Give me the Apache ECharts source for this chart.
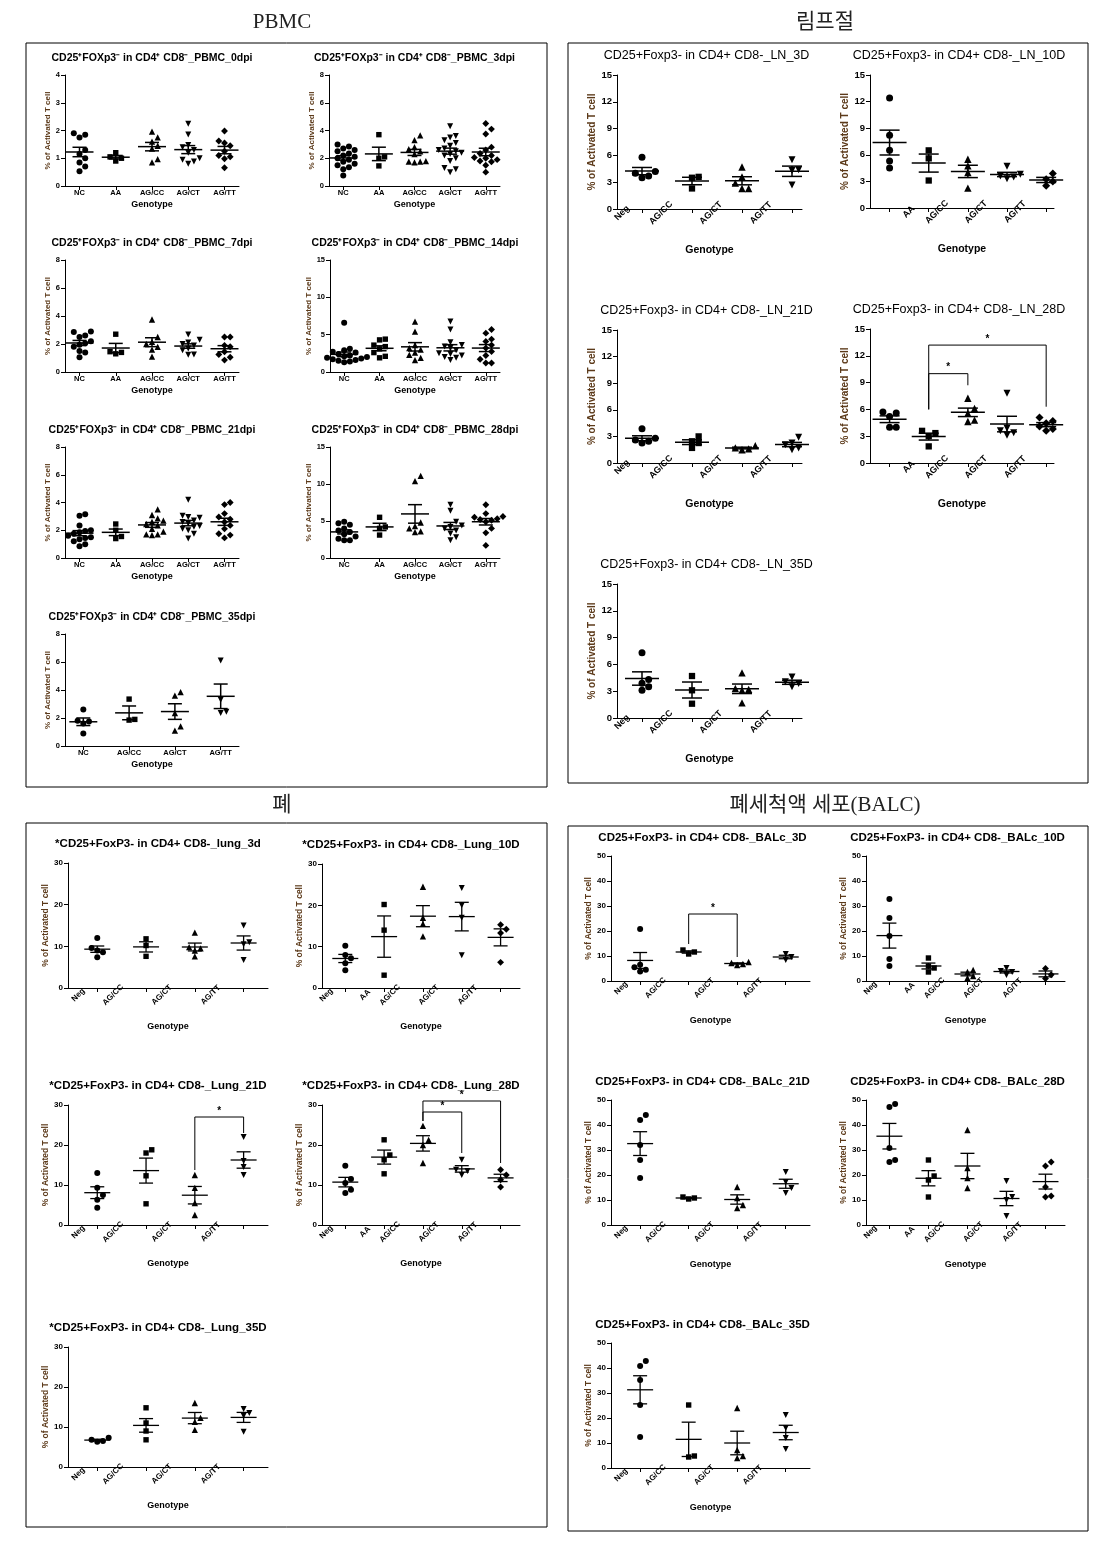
<!DOCTYPE html>
<html><head><meta charset="utf-8">
<script src="https://cdn.jsdelivr.net/npm/echarts@6/dist/echarts.min.js"></script>
<style>html,body{margin:0;padding:0;background:#fff}#c{width:1098px;height:1541px}</style>
</head><body><div id="c"></div>
<script>
// ---------- categories ----------
const CAT_NC5 = ['NC', 'AA', 'AG/CC', 'AG/CT', 'AG/TT'];
const CAT_NC4 = ['NC', 'AG/CC', 'AG/CT', 'AG/TT'];
const CAT_NEG4 = ['Neg', 'AG/CC', 'AG/CT', 'AG/TT'];
const CAT_NEG5 = ['Neg', 'AA', 'AG/CC', 'AG/CT', 'AG/TT'];

// ---------- values (one list of points per genotype group) ----------
const PBMC_0dpi = [
  [1.85, 1.9, 1.75, 1.3, 1.15, 1.0, 0.85, 0.7, 0.53],
  [1.2, 1.05, 1.0, 0.9],
  [1.96, 1.75, 1.6, 1.45, 1.35, 0.97, 0.85],
  [2.24, 1.86, 1.48, 1.4, 1.3, 1.2, 1.0, 0.95, 0.88, 0.8],
  [1.98, 1.62, 1.55, 1.45, 1.25, 1.1, 1.05, 0.98, 0.66]
];
const PBMC_3dpi = [
  [3.0, 2.85, 2.7, 2.6, 2.5, 2.35, 2.2, 2.1, 2.0, 1.9, 1.75, 1.6, 1.5, 1.35, 1.2, 0.75],
  [3.7, 2.1, 2.0, 1.45],
  [3.65, 3.3, 2.8, 2.65, 2.5, 2.3, 1.8, 1.75, 1.7, 1.75],
  [4.3, 3.6, 3.5, 3.3, 3.1, 2.9, 2.7, 2.6, 2.5, 2.4, 2.3, 2.2, 2.0, 1.8, 1.3, 1.2, 1.0],
  [4.5, 4.1, 3.75, 2.8, 2.6, 2.35, 2.2, 2.05, 2.0, 1.9, 1.8, 1.75, 1.5, 1.0]
];
const PBMC_7dpi = [
  [2.9, 2.85, 2.6, 2.5, 2.2, 2.05, 1.95, 1.8, 1.5, 1.4, 1.05],
  [2.7, 1.45, 1.4, 1.3],
  [3.75, 2.5, 2.15, 2.0, 1.8, 1.6, 1.1],
  [2.67, 2.3, 2.1, 2.0, 1.9, 1.67, 1.55, 1.25, 1.24],
  [2.5, 2.5, 1.9, 1.8, 1.45, 1.25, 1.05, 0.85]
];
const PBMC_14dpi = [
  [6.6, 3.1, 2.9, 2.7, 2.6, 2.4, 2.2, 2.1, 2.0, 1.9, 1.8, 1.7, 1.6, 1.5, 1.4, 1.3],
  [4.4, 4.3, 3.6, 3.4, 3.1, 2.6, 2.1, 1.9],
  [6.75, 5.4, 3.6, 3.2, 3.0, 2.6, 2.3, 1.9, 1.6],
  [6.75, 5.7, 4.0, 3.6, 3.4, 3.2, 2.9, 2.5, 2.4, 2.2, 2.0, 1.9, 1.6],
  [5.7, 5.2, 4.4, 4.1, 3.6, 3.2, 2.75, 2.2, 1.7, 1.2, 1.2]
];
const PBMC_21dpi = [
  [3.15, 3.05, 2.35, 2.0, 1.95, 1.85, 1.75, 1.6, 1.5, 1.45, 1.35, 1.2, 1.0, 0.85],
  [2.45, 2.0, 1.55, 1.4],
  [3.5, 3.1, 2.85, 2.7, 2.6, 2.45, 2.35, 2.1, 1.9, 1.7, 1.7, 1.65],
  [4.2, 3.05, 2.95, 2.9, 2.7, 2.6, 2.5, 2.3, 2.25, 2.1, 2.0, 1.75, 1.4],
  [4.0, 3.85, 3.2, 2.95, 2.8, 2.6, 2.35, 2.1, 1.75, 1.65, 1.45]
];
const PBMC_28dpi = [
  [4.9, 4.7, 4.5, 4.0, 3.7, 3.5, 3.2, 2.9, 2.6, 2.4, 2.4],
  [5.5, 4.2, 4.0, 3.1],
  [11.1, 10.4, 4.8, 4.3, 4.0, 3.6, 3.5],
  [7.2, 6.4, 4.9, 4.4, 4.2, 4.0, 3.7, 3.3, 2.8, 2.4],
  [7.2, 6.0, 5.6, 5.5, 5.3, 5.2, 5.1, 4.9, 4.0, 3.4, 1.7]
];
const PBMC_35dpi = [
  [2.6, 1.8, 1.75, 1.6, 0.9],
  [3.35, 1.9, 1.85],
  [3.85, 3.6, 2.35, 1.4, 1.1],
  [6.1, 3.3, 2.45, 2.35]
];

const LN_3D = [
  [5.8, 4.2, 4.0, 3.7, 3.5],
  [3.6, 3.5, 2.3],
  [4.7, 3.6, 2.9, 2.3, 2.3],
  [5.5, 4.4, 4.3, 2.7]
];
const LN_10D = [
  [12.4, 8.2, 6.5, 5.3, 4.5],
  [6.5, 5.6, 3.1],
  [5.5, 4.75, 4.0, 2.25],
  [4.7, 3.8, 3.6, 3.5, 3.3],
  [3.9, 3.25, 3.0, 2.5]
];
const LN_21D = [
  [3.85, 2.8, 2.6, 2.45, 2.25],
  [3.0, 2.45, 2.25, 1.7],
  [1.95, 1.7, 1.6, 1.5],
  [2.9, 2.25, 2.05, 1.7, 1.5]
];
const LN_28D = [
  [5.7, 5.6, 5.2, 4.0, 4.0],
  [3.6, 3.35, 3.0, 1.86],
  [7.25, 6.1, 5.55, 4.8, 4.65],
  [7.8, 3.9, 3.6, 3.4, 3.1],
  [5.1, 4.7, 4.45, 4.1, 3.8, 3.6]
];
const LN_35D = [
  [7.3, 4.3, 3.9, 3.5, 3.1],
  [4.7, 3.1, 1.6],
  [5.05, 3.3, 3.2, 3.1, 1.7],
  [4.6, 4.05, 3.85, 3.5]
];

const LUNG_3d = [
  [12, 9.6, 9, 8.6, 7.4],
  [11.8, 10.2, 7.6],
  [13.3, 9.8, 9.5, 9.0, 7.6],
  [15, 11, 10.5, 6.7]
];
const LUNG_10D = [
  [10.2, 8.0, 7.2, 6.0, 4.3],
  [20.2, 14, 3.1],
  [24.5, 17, 15.5, 12.5],
  [24.2, 20, 17, 7.9],
  [15.3, 14.2, 13.3, 6.2]
];
const LUNG_21D = [
  [13, 9.3, 7.5, 6.3, 4.3],
  [18.8, 18, 12.3, 5.3],
  [12.5, 9.3, 5.5, 2.5],
  [22, 16, 14.5, 12.5]
];
const LUNG_28D = [
  [14.8, 11.5, 10.5, 8.8, 8],
  [21.3, 17.5, 16.3, 12.8],
  [24.8, 21.3, 20, 15.5],
  [16.3, 13.8, 13.5, 12.5],
  [13.8, 12.5, 11.3, 9.5]
];
const LUNG_35D = [
  [7.3, 6.8, 6.5, 6.3],
  [14.8, 11, 9, 6.8],
  [16, 12.3, 11.3, 9.3],
  [14.5, 13.5, 12.8, 8.8]
];

const BALC_3D = [
  [20.8, 6.5, 5.5, 4.5, 3.8],
  [12.4, 11.6, 10.8],
  [7.6, 7.2, 6.8, 6.4],
  [10.8, 9.6, 8.4]
];
const BALC_10D = [
  [32.8, 25.2, 18, 8.8, 6],
  [9.2, 6, 5.2, 3.6],
  [4.4, 3.6, 2, 1.2],
  [5.2, 4, 3.6, 2.4],
  [5, 2.5, 1.0]
];
const BALC_21D = [
  [44, 42, 32, 26, 18.8],
  [11.2, 10.8, 10.4],
  [15.2, 10.8, 8, 6.8],
  [21.2, 17.2, 14.8, 12.8]
];
const BALC_28D = [
  [48.4, 47.2, 30.8, 26, 25.2],
  [26, 19.6, 18, 11.2],
  [38, 22.8, 18.8, 14.8],
  [17.6, 11.2, 10, 3.6],
  [25.2, 23.6, 15.2, 11.6, 11.2]
];
const BALC_35D = [
  [42.8, 40.8, 35.2, 25.2, 12.4],
  [25.2, 4.8, 4.4],
  [24, 7.2, 4.8, 4],
  [21.2, 16, 12, 7.6]
];

// significance brackets: [group a, group b, top, left leg bottom, right leg bottom]
const SIG_LN_28D = [[2, 3, 10.0, 6.0, 8.7], [2, 5, 13.2, 6.0, 6.3]];
const SIG_LUNG_21D = [[3, 4, 27, 13.75, 23]];
const SIG_LUNG_28D = [[3, 4, 28.25, 26, 18], [3, 5, 31, 26, 15.5]];
const SIG_BALC_3D = [[2, 3, 26.8, 14.8, 9.6]];

// ---------- styling / layout ----------
const FONT = "'Liberation Sans', Arial, sans-serif";
const YNAME_COLOR = '#5c3a1a';
const STY = {
  pbmc: {tFont: 10.5, tWeight: 'bold', tDy: 17, tDx: 0, tick: 7.5, cat: 7.5, rot: 0, catMargin: 3, geno: 9, genoGap: 14,
         yname: 8, ynameGap: 13, sym: 6, meanHalf: 14, capHalf: 7, lw: 1.5, xmin: 0.6, xpad: 0.4, shortShift: 0, longShift: 0},
  ln:   {tFont: 12.5, tWeight: 'normal', tDy: 19, tDx: -3, tick: 9.5, cat: 9, rot: 45, catMargin: 4, geno: 10.5, genoGap: 36,
         yname: 10, ynameGap: 18, sym: 7, meanHalf: 17, capHalf: 10, lw: 1.5, xmin: 0.5, xpad: 0.2, shortShift: 20, longShift: 31},
  lung: {tFont: 11.5, tWeight: 'bold', tDy: 19, tDx: -10, tick: 8, cat: 8, rot: 45, catMargin: 7, geno: 9, genoGap: 34,
         yname: 8.5, ynameGap: 13, sym: 6, meanHalf: 13, capHalf: 7, lw: 1.3, xmin: 0.4, xpad: 0.5, shortShift: 19, longShift: 33},
  balc: {tFont: 11.5, tWeight: 'bold', tDy: 18, tDx: -8, tick: 8, cat: 8, rot: 45, catMargin: 7, geno: 9, genoGap: 35,
         yname: 8.5, ynameGap: 13, sym: 6, meanHalf: 13, capHalf: 7, lw: 1.3, xmin: 0.4, xpad: 0.5, shortShift: 19, longShift: 33}
};

const panels = [
  {sec: 'pbmc', title: 'CD25⁺FOXp3⁻ in CD4⁺ CD8⁻_PBMC_0dpi', data: PBMC_0dpi, cats: CAT_NC5, box: [65, 75, 174, 111], ymax: 4, yint: 1},
  {sec: 'pbmc', title: 'CD25⁺FOXp3⁻ in CD4⁺ CD8⁻_PBMC_3dpi', data: PBMC_3dpi, cats: CAT_NC5, box: [329, 75, 171, 111], ymax: 8, yint: 2},
  {sec: 'pbmc', title: 'CD25⁺FOXp3⁻ in CD4⁺ CD8⁻_PBMC_7dpi', data: PBMC_7dpi, cats: CAT_NC5, box: [65, 260, 174, 112], ymax: 8, yint: 2},
  {sec: 'pbmc', title: 'CD25⁺FOXp3⁻ in CD4⁺ CD8⁻_PBMC_14dpi', data: PBMC_14dpi, cats: CAT_NC5, box: [330, 260, 170, 112], ymax: 15, yint: 5},
  {sec: 'pbmc', title: 'CD25⁺FOXp3⁻ in CD4⁺ CD8⁻_PBMC_21dpi', data: PBMC_21dpi, cats: CAT_NC5, box: [65, 447, 174, 111], ymax: 8, yint: 2},
  {sec: 'pbmc', title: 'CD25⁺FOXp3⁻ in CD4⁺ CD8⁻_PBMC_28dpi', data: PBMC_28dpi, cats: CAT_NC5, box: [330, 447, 170, 111], ymax: 15, yint: 5},
  {sec: 'pbmc', title: 'CD25⁺FOXp3⁻ in CD4⁺ CD8⁻_PBMC_35dpi', data: PBMC_35dpi, cats: CAT_NC4, box: [65, 634, 174, 112], ymax: 8, yint: 2},

  {sec: 'ln', title: 'CD25+Foxp3- in CD4+ CD8-_LN_3D', data: LN_3D, cats: CAT_NEG4, box: [617, 75, 185, 134], ymax: 15, yint: 3},
  {sec: 'ln', title: 'CD25+Foxp3- in CD4+ CD8-_LN_10D', data: LN_10D, cats: CAT_NEG5, box: [870, 75, 184, 133], ymax: 15, yint: 3},
  {sec: 'ln', title: 'CD25+Foxp3- in CD4+ CD8-_LN_21D', data: LN_21D, cats: CAT_NEG4, box: [617, 330, 185, 133], ymax: 15, yint: 3},
  {sec: 'ln', title: 'CD25+Foxp3- in CD4+ CD8-_LN_28D', data: LN_28D, cats: CAT_NEG5, box: [870, 329, 184, 134], ymax: 15, yint: 3, sig: SIG_LN_28D},
  {sec: 'ln', title: 'CD25+Foxp3- in CD4+ CD8-_LN_35D', data: LN_35D, cats: CAT_NEG4, box: [617, 584, 185, 134], ymax: 15, yint: 3},

  {sec: 'lung', title: '*CD25+FoxP3- in CD4+ CD8-_lung_3d', data: LUNG_3d, cats: CAT_NEG4, box: [68, 863, 200, 125], ymax: 30, yint: 10},
  {sec: 'lung', title: '*CD25+FoxP3- in CD4+ CD8-_Lung_10D', data: LUNG_10D, cats: CAT_NEG5, box: [322, 864, 198, 124], ymax: 30, yint: 10},
  {sec: 'lung', title: '*CD25+FoxP3- in CD4+ CD8-_Lung_21D', data: LUNG_21D, cats: CAT_NEG4, box: [68, 1105, 200, 120], ymax: 30, yint: 10, sig: SIG_LUNG_21D},
  {sec: 'lung', title: '*CD25+FoxP3- in CD4+ CD8-_Lung_28D', data: LUNG_28D, cats: CAT_NEG5, box: [322, 1105, 198, 120], ymax: 30, yint: 10, sig: SIG_LUNG_28D},
  {sec: 'lung', title: '*CD25+FoxP3- in CD4+ CD8-_Lung_35D', data: LUNG_35D, cats: CAT_NEG4, box: [68, 1347, 200, 120], ymax: 30, yint: 10},

  {sec: 'balc', title: 'CD25+FoxP3- in CD4+ CD8-_BALc_3D', data: BALC_3D, cats: CAT_NEG4, box: [611, 856, 199, 125], ymax: 50, yint: 10, sig: SIG_BALC_3D},
  {sec: 'balc', title: 'CD25+FoxP3- in CD4+ CD8-_BALc_10D', data: BALC_10D, cats: CAT_NEG5, box: [866, 856, 199, 125], ymax: 50, yint: 10},
  {sec: 'balc', title: 'CD25+FoxP3- in CD4+ CD8-_BALc_21D', data: BALC_21D, cats: CAT_NEG4, box: [611, 1100, 199, 125], ymax: 50, yint: 10},
  {sec: 'balc', title: 'CD25+FoxP3- in CD4+ CD8-_BALc_28D', data: BALC_28D, cats: CAT_NEG5, box: [866, 1100, 199, 125], ymax: 50, yint: 10},
  {sec: 'balc', title: 'CD25+FoxP3- in CD4+ CD8-_BALc_35D', data: BALC_35D, cats: CAT_NEG4, box: [611, 1343, 199, 125], ymax: 50, yint: 10}
];

const sectionBoxes = [
  {label: 'PBMC', rect: [26, 43, 521, 744], tx: 282, ty: 22},
  {label: '림프절', rect: [568, 43, 520, 740], tx: 825, ty: 22},
  {label: '폐', rect: [26, 823, 521, 704], tx: 282, ty: 805},
  {label: '폐세척액 세포(BALC)', rect: [568, 826, 520, 705], tx: 825, ty: 805}
];

const SYMS = ['circle', 'rect', 'triangle', 'path://M0,0L10,0L5,10Z', 'diamond'];
const SYMSCALE = [1, 0.9, 1.05, 1.0, 1.15];

function mean(a) { return a.reduce((s, v) => s + v, 0) / a.length; }
function sem(a) {
  const m = mean(a);
  const sd = Math.sqrt(a.reduce((s, v) => s + (v - m) * (v - m), 0) / (a.length - 1));
  return sd / Math.sqrt(a.length);
}
// horizontal spread of overlapping points (px offsets)
function spread(vals, pxPerUnit, sym) {
  const order = vals.map((v, i) => i).sort((a, b) => vals[a] - vals[b]);
  const slot = new Array(vals.length).fill(0);
  const placed = [];
  const seq = [0, 1, -1, 2, -2, 3, -3, 4, -4, 5, -5];
  for (const i of order) {
    const near = placed.filter(j => Math.abs(vals[j] - vals[i]) * pxPerUnit < sym * 0.95);
    for (const k of seq) { if (!near.some(j => slot[j] === k)) { slot[i] = k; break; } }
    placed.push(i);
  }
  return slot.map(k => k * sym * 0.95);
}

const option = {animation: false, backgroundColor: '#fff', grid: [], xAxis: [], yAxis: [], series: [], graphic: []};

sectionBoxes.forEach(b => {
  option.graphic.push({type: 'rect', shape: {x: b.rect[0], y: b.rect[1], width: b.rect[2], height: b.rect[3]},
    style: {fill: null, stroke: '#000', lineWidth: 1}, silent: true});
  option.graphic.push({type: 'text', x: b.tx, y: b.ty, silent: true,
    style: {text: b.label, align: 'center', verticalAlign: 'middle', textAlign: 'center', textVerticalAlign: 'middle',
      font: "21px 'Liberation Serif', 'Noto Sans CJK KR', serif", fill: '#222'}});
});

panels.forEach((p, k) => {
  const s = STY[p.sec];
  const [L, T, W, H] = p.box;
  const n = p.cats.length;
  const xmin = s.xmin, xmax = n + s.xpad;
  const pxPerX = W / (xmax - xmin);
  const pxPerY = H / p.ymax;
  const groupPos = p.cats.map((c, i) => i + 1);
  // label anchor positions: rotated labels sit to the left of their group
  const labelPos = p.cats.map((c, i) => i + 1 - (c.length >= 4 ? s.longShift : s.shortShift) / pxPerX);
  const labelFor = v => {
    for (let i = 0; i < labelPos.length; i++) if (Math.abs(labelPos[i] - v) < 1e-6) return p.cats[i];
    return '';
  };

  option.grid.push({left: L, top: T, width: W, height: H, containLabel: false});
  const xLabel = {show: true, customValues: labelPos, rotate: s.rot, margin: s.catMargin, formatter: labelFor,
    fontSize: s.cat, fontWeight: 'bold', color: '#000', fontFamily: FONT};
  if (s.rot) { xLabel.align = 'center'; xLabel.verticalAlign = 'middle'; }
  option.xAxis.push({
    type: 'value', gridIndex: k, min: xmin, max: xmax, splitLine: {show: false},
    axisLine: {show: true, onZero: false, lineStyle: {color: '#000', width: 1}},
    axisTick: {show: true, customValues: groupPos, length: 4, lineStyle: {color: '#000', width: 1}},
    axisLabel: xLabel,
    name: 'Genotype', nameLocation: 'middle', nameGap: s.genoGap,
    nameTextStyle: {fontSize: s.geno, fontWeight: 'bold', color: '#000', fontFamily: FONT}
  });
  option.yAxis.push({
    type: 'value', gridIndex: k, min: 0, max: p.ymax, interval: p.yint, splitLine: {show: false},
    axisLine: {show: true, onZero: false, lineStyle: {color: '#000', width: 1}},
    axisTick: {show: true, length: 4, lineStyle: {color: '#000', width: 1}},
    axisLabel: {fontSize: s.tick, fontWeight: 'bold', color: '#000', margin: 5, fontFamily: FONT},
    name: '% of Activated T cell', nameLocation: 'middle', nameRotate: 90, nameGap: s.ynameGap,
    nameTextStyle: {fontSize: s.yname, fontWeight: 'bold', color: YNAME_COLOR, fontFamily: FONT}
  });

  // panel title
  option.graphic.push({type: 'text', x: L + W / 2 + s.tDx, y: T - s.tDy, silent: true,
    style: {text: p.title, align: 'center', verticalAlign: 'middle', textAlign: 'center', textVerticalAlign: 'middle',
      font: `${s.tWeight} ${s.tFont}px ${FONT}`, fill: '#000'}});

  // points
  p.data.forEach((g, i) => {
    const offs = spread(g, pxPerY, s.sym);
    option.series.push({
      type: 'scatter', xAxisIndex: k, yAxisIndex: k, silent: true, z: 2,
      symbol: SYMS[i], symbolSize: s.sym * SYMSCALE[i],
      itemStyle: {color: '#000', opacity: 1},
      data: g.map((v, j) => ({value: [i + 1, v], symbolOffset: [offs[j], 0]}))
    });
  });

  // mean ± SEM
  option.series.push({
    type: 'custom', xAxisIndex: k, yAxisIndex: k, silent: true, z: 3,
    data: p.data.map((g, i) => [i + 1, mean(g), sem(g)]),
    renderItem: (params, api) => {
      const x = api.value(0), m = api.value(1), e = api.value(2);
      const pm = api.coord([x, m]), pt = api.coord([x, m + e]), pb = api.coord([x, m - e]);
      const st = {stroke: '#000', lineWidth: s.lw};
      return {type: 'group', children: [
        {type: 'line', shape: {x1: pm[0] - s.meanHalf, y1: pm[1], x2: pm[0] + s.meanHalf, y2: pm[1]}, style: st},
        {type: 'line', shape: {x1: pt[0], y1: pt[1], x2: pb[0], y2: pb[1]}, style: st},
        {type: 'line', shape: {x1: pt[0] - s.capHalf, y1: pt[1], x2: pt[0] + s.capHalf, y2: pt[1]}, style: st},
        {type: 'line', shape: {x1: pb[0] - s.capHalf, y1: pb[1], x2: pb[0] + s.capHalf, y2: pb[1]}, style: st}
      ]};
    }
  });

  // significance brackets
  if (p.sig) {
    option.series.push({
      type: 'custom', xAxisIndex: k, yAxisIndex: k, silent: true, z: 4, clip: false,
      data: p.sig,
      renderItem: (params, api) => {
        const a = api.value(0), b = api.value(1), top = api.value(2), la = api.value(3), lb = api.value(4);
        const pA = api.coord([a, top]), pB = api.coord([b, top]);
        const pLa = api.coord([a, la]), pLb = api.coord([b, lb]);
        return {type: 'group', children: [
          {type: 'polyline', shape: {points: [[pLa[0], pLa[1]], [pA[0], pA[1]], [pB[0], pB[1]], [pLb[0], pLb[1]]]},
            style: {stroke: '#000', fill: null, lineWidth: 1}},
          {type: 'text', x: (pA[0] + pB[0]) / 2, y: pA[1] - 1,
            style: {text: '*', align: 'center', verticalAlign: 'bottom', textAlign: 'center', textVerticalAlign: 'bottom',
              font: `bold 10px ${FONT}`, fill: '#000'}}
        ]};
      }
    });
  }
});

const chart = echarts.init(document.getElementById('c'), null, {renderer: 'canvas'});
chart.setOption(option);
</script>
</body></html>
